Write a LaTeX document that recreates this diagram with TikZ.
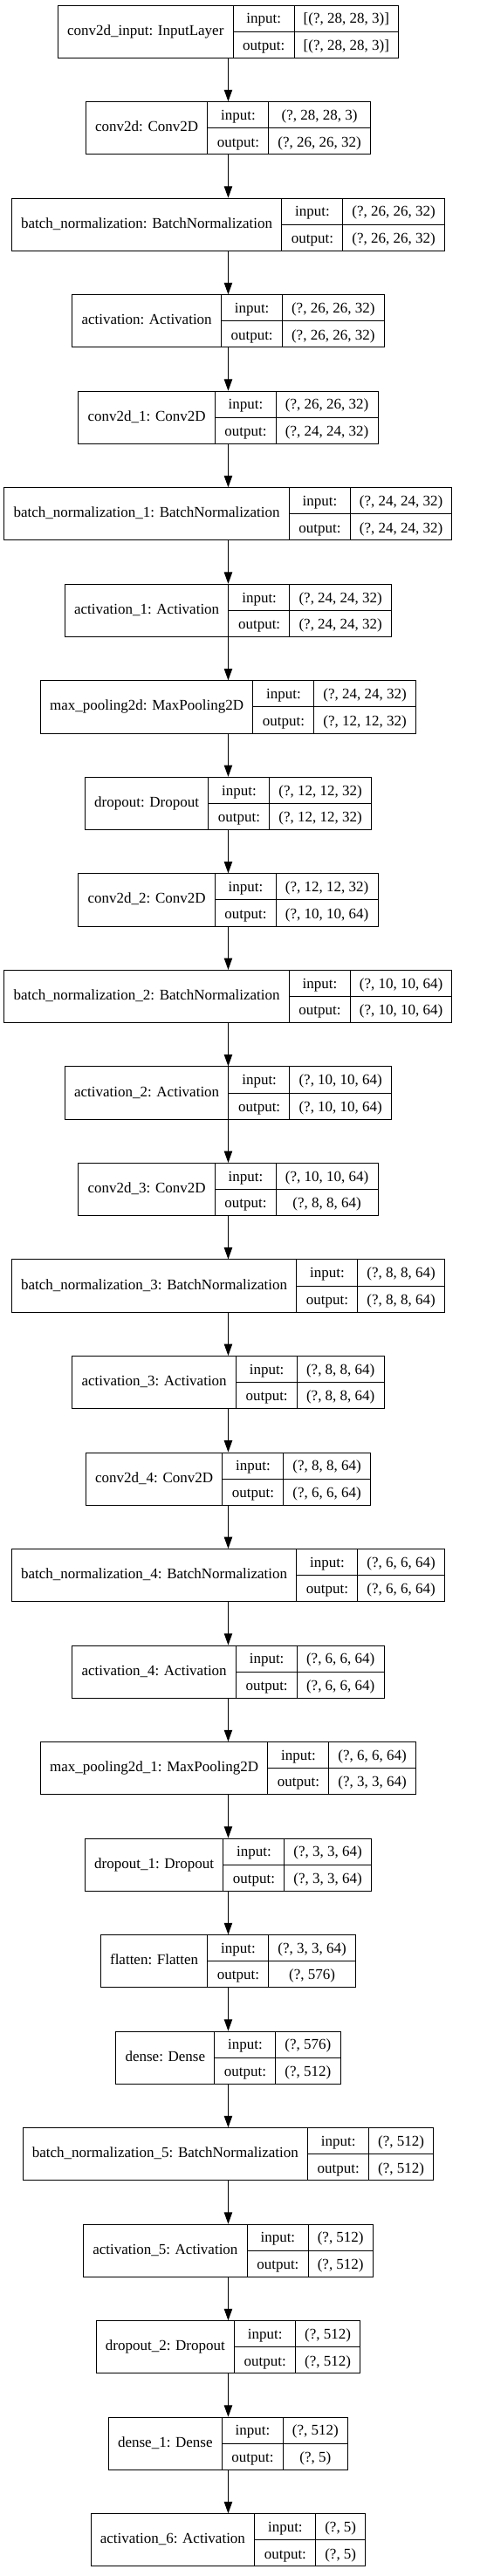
\documentclass[tikz,border=0pt]{standalone}
\usepackage{fontspec}
\setmainfont{Liberation Serif}
\usetikzlibrary{arrows.meta}
\usetikzlibrary{positioning}
\setlength{\arrayrulewidth}{0.75pt}
\setlength{\tabcolsep}{8pt}
\renewcommand{\arraystretch}{1.432}
\newcommand{\LayerTab}[3]{%
  \begin{tabular}{c|@{}c@{}}
  #1 & \begin{tabular}{c|c}input: & #2\\ \hline output: & #3\end{tabular}
  \end{tabular}}
\tikzset{
  MyLayer/.style={
    rectangle, inner sep=0pt,
    line width=0.75pt, draw=black,
    font=\fontsize{12.75pt}{15.5pt}\selectfont,
  },
  MyArrow/.style={-{Triangle[length=10pt,width=7pt]}, line width=0.75pt, draw=black},
}

\begin{document}
\begin{tikzpicture}[node distance=37pt]
\useasboundingbox (0,0) rectangle (417.75pt,-2213.25pt);
\node[MyLayer] (inp) at (196.1pt,-27.2pt) {\LayerTab{conv2d\_input: InputLayer}{[(?, 28, 28, 3)]}{[(?, 28, 28, 3)]}};
\node[MyLayer, below=of inp] (conv) {\LayerTab{conv2d: Conv2D}{(?, 28, 28, 3)}{(?, 26, 26, 32)}};
\node[MyLayer, below=of conv] (bn) {\LayerTab{batch\_normalization: BatchNormalization}{(?, 26, 26, 32)}{(?, 26, 26, 32)}};
\node[MyLayer, below=of bn] (act) {\LayerTab{activation: Activation}{(?, 26, 26, 32)}{(?, 26, 26, 32)}};
\node[MyLayer, below=of act] (conv1) {\LayerTab{conv2d\_1: Conv2D}{(?, 26, 26, 32)}{(?, 24, 24, 32)}};
\node[MyLayer, below=of conv1] (bn1) {\LayerTab{batch\_normalization\_1: BatchNormalization}{(?, 24, 24, 32)}{(?, 24, 24, 32)}};
\node[MyLayer, below=of bn1] (act1) {\LayerTab{activation\_1: Activation}{(?, 24, 24, 32)}{(?, 24, 24, 32)}};
\node[MyLayer, below=of act1] (pool) {\LayerTab{max\_pooling2d: MaxPooling2D}{(?, 24, 24, 32)}{(?, 12, 12, 32)}};
\node[MyLayer, below=of pool] (drop) {\LayerTab{dropout: Dropout}{(?, 12, 12, 32)}{(?, 12, 12, 32)}};
\node[MyLayer, below=of drop] (conv2) {\LayerTab{conv2d\_2: Conv2D}{(?, 12, 12, 32)}{(?, 10, 10, 64)}};
\node[MyLayer, below=of conv2] (bn2) {\LayerTab{batch\_normalization\_2: BatchNormalization}{(?, 10, 10, 64)}{(?, 10, 10, 64)}};
\node[MyLayer, below=of bn2] (act2) {\LayerTab{activation\_2: Activation}{(?, 10, 10, 64)}{(?, 10, 10, 64)}};
\node[MyLayer, below=of act2] (conv3) {\LayerTab{conv2d\_3: Conv2D}{(?, 10, 10, 64)}{(?, 8, 8, 64)}};
\node[MyLayer, below=of conv3] (bn3) {\LayerTab{batch\_normalization\_3: BatchNormalization}{(?, 8, 8, 64)}{(?, 8, 8, 64)}};
\node[MyLayer, below=of bn3] (act3) {\LayerTab{activation\_3: Activation}{(?, 8, 8, 64)}{(?, 8, 8, 64)}};
\node[MyLayer, below=of act3] (conv4) {\LayerTab{conv2d\_4: Conv2D}{(?, 8, 8, 64)}{(?, 6, 6, 64)}};
\node[MyLayer, below=of conv4] (bn4) {\LayerTab{batch\_normalization\_4: BatchNormalization}{(?, 6, 6, 64)}{(?, 6, 6, 64)}};
\node[MyLayer, below=of bn4] (act4) {\LayerTab{activation\_4: Activation}{(?, 6, 6, 64)}{(?, 6, 6, 64)}};
\node[MyLayer, below=of act4] (pool1) {\LayerTab{max\_pooling2d\_1: MaxPooling2D}{(?, 6, 6, 64)}{(?, 3, 3, 64)}};
\node[MyLayer, below=of pool1] (drop1) {\LayerTab{dropout\_1: Dropout}{(?, 3, 3, 64)}{(?, 3, 3, 64)}};
\node[MyLayer, below=of drop1] (flat) {\LayerTab{flatten: Flatten}{(?, 3, 3, 64)}{(?, 576)}};
\node[MyLayer, below=of flat] (dense) {\LayerTab{dense: Dense}{(?, 576)}{(?, 512)}};
\node[MyLayer, below=of dense] (bn5) {\LayerTab{batch\_normalization\_5: BatchNormalization}{(?, 512)}{(?, 512)}};
\node[MyLayer, below=of bn5] (act5) {\LayerTab{activation\_5: Activation}{(?, 512)}{(?, 512)}};
\node[MyLayer, below=of act5] (drop2) {\LayerTab{dropout\_2: Dropout}{(?, 512)}{(?, 512)}};
\node[MyLayer, below=of drop2] (dense1) {\LayerTab{dense\_1: Dense}{(?, 512)}{(?, 5)}};
\node[MyLayer, below=of dense1] (act6) {\LayerTab{activation\_6: Activation}{(?, 5)}{(?, 5)}};
\draw[MyArrow] (inp) to (conv);
\draw[MyArrow] (conv) to (bn);
\draw[MyArrow] (bn) to (act);
\draw[MyArrow] (act) to (conv1);
\draw[MyArrow] (conv1) to (bn1);
\draw[MyArrow] (bn1) to (act1);
\draw[MyArrow] (act1) to (pool);
\draw[MyArrow] (pool) to (drop);
\draw[MyArrow] (drop) to (conv2);
\draw[MyArrow] (conv2) to (bn2);
\draw[MyArrow] (bn2) to (act2);
\draw[MyArrow] (act2) to (conv3);
\draw[MyArrow] (conv3) to (bn3);
\draw[MyArrow] (bn3) to (act3);
\draw[MyArrow] (act3) to (conv4);
\draw[MyArrow] (conv4) to (bn4);
\draw[MyArrow] (bn4) to (act4);
\draw[MyArrow] (act4) to (pool1);
\draw[MyArrow] (pool1) to (drop1);
\draw[MyArrow] (drop1) to (flat);
\draw[MyArrow] (flat) to (dense);
\draw[MyArrow] (dense) to (bn5);
\draw[MyArrow] (bn5) to (act5);
\draw[MyArrow] (act5) to (drop2);
\draw[MyArrow] (drop2) to (dense1);
\draw[MyArrow] (dense1) to (act6);
\end{tikzpicture}
\end{document}
